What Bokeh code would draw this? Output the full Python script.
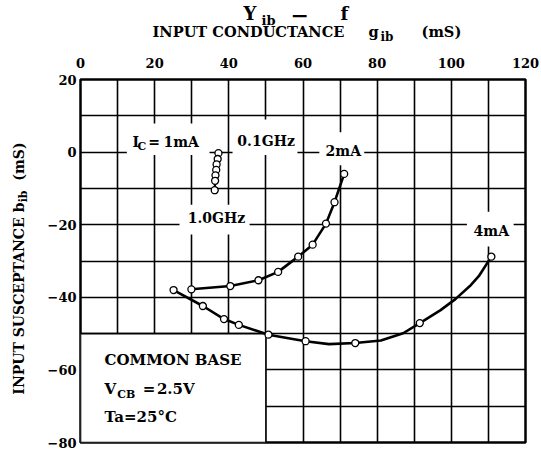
import math
from bokeh.plotting import figure
from bokeh.models import Range1d, FixedTicker, Label
from bokeh.layouts import column, row
from bokeh.embed import file_html
from bokeh.resources import INLINE

# ---------------- data ----------------
x_ticks = [0, 20, 40, 60, 80, 100, 120]
y_ticks = [-80, -60, -40, -20, 0, 20]
y_tick_labels = ["\u221280", "\u221260", "\u221240", "\u221220", "0", "20"]
grid_x = list(range(0, 121, 10))
grid_y = list(range(-80, 21, 10))

# IC = 1 mA (0.1 GHz ... 1.0 GHz)
g_1ma = [37.2, 37.0, 36.7, 36.6, 36.4, 36.3, 36.2]
b_1ma = [-0.3, -1.9, -3.4, -4.9, -6.4, -7.9, -10.5]
# IC = 2 mA
g_2ma = [29.9, 40.4, 48.0, 53.3, 58.7, 62.6, 66.2, 68.5, 71.1]
b_2ma = [-37.8, -36.9, -35.3, -33.0, -28.8, -25.5, -19.7, -13.8, -6.0]
# IC = 4 mA
g_4ma = [25.1, 33.0, 38.7, 42.7, 50.7, 60.7, 74.1, 91.5, 110.8]
b_4ma = [-38.0, -42.4, -46.0, -47.6, -50.3, -52.1, -52.6, -47.1, -28.8]
# traced 4 mA curve (markers plus points)
curve_4ma_g = [25.1, 33.0, 38.7, 42.7, 50.7, 60.7, 67.0, 74.1, 81.0, 87.0, 91.5, 97.0, 101.1, 105.0, 107.4, 110.8]
curve_4ma_b = [-38.0, -42.4, -46.0, -47.6, -50.3, -52.1, -52.9, -52.6, -51.9, -49.9, -47.1, -43.6, -40.5, -36.9, -34.2, -28.8]

FONT = "DejaVu Serif"
W, H = 541, 450
TOP_H = 48
LEFT_W = 30
YPX = 3.63          # main chart: pixels per data unit (vertical)
LIFT = 0.34         # Bokeh's alphabetic anchor sits a bit low: compensate (em)


def label(fig, x, y, s, size, mode, angle=0.0):
    off = LIFT * size
    if mode == "main":
        y += off / YPX
    elif mode == "top":
        y -= off
    elif mode == "left":
        x -= off
    fig.add_layout(Label(x=x, y=y, text=s, text_font=FONT, text_font_style="bold",
                         text_font_size=f"{size}px", text_color="black",
                         text_align="left", text_baseline="alphabetic",
                         angle=angle))


def blank(width, height, xr, yr):
    f = figure(width=width, height=height, x_range=xr, y_range=yr,
               x_axis_location=None, y_axis_location=None,
               output_backend="svg", toolbar_location=None, min_border=0)
    f.grid.visible = False
    f.outline_line_color = None
    f.background_fill_color = "white"
    f.border_fill_color = "white"
    return f


# ---------- title strip (coordinates = page pixels) ----------
top = blank(W, TOP_H, Range1d(0, W), Range1d(TOP_H, 0))
label(top, 243, 19.5, "Y", 18, "top")
label(top, 261, 24.5, "ib", 13, "top")
label(top, 290, 22.0, "\u2212", 22, "top")
label(top, 340, 19.5, "f", 18, "top")
label(top, 152, 35.5, "INPUT CONDUCTANCE", 14.6, "top")
label(top, 368, 35.5, "g", 14.6, "top")
label(top, 380, 41.0, "ib", 12, "top")
label(top, 421, 35.5, "(mS)", 14.6, "top")

# ---------- left strip (rotated axis title) ----------
left = blank(LEFT_W, H - TOP_H, Range1d(0, LEFT_W), Range1d(H, TOP_H))
r = math.pi / 2
label(left, 23, 397, "INPUT SUSCEPTANCE", 14, "left", r)
label(left, 23, 195, "b", 14, "left", r)
label(left, 27, 184, "ib", 11, "left", r)
label(left, 23, 160, "(mS)", 14, "left", r)

# ---------- main chart ----------
p = figure(width=W - LEFT_W, height=H - TOP_H,
           x_range=Range1d(0, 120), y_range=Range1d(-80, 20),
           x_axis_location="above", y_axis_location="left",
           output_backend="svg", toolbar_location=None,
           min_border_left=50, min_border_top=79 - TOP_H, min_border_right=16, min_border_bottom=8)
p.background_fill_color = "white"
p.border_fill_color = "white"
p.outline_line_color = "black"
p.outline_line_width = 2.5

for ax in (p.xaxis[0], p.yaxis[0]):
    ax.major_tick_in = 0
    ax.major_tick_out = 0
    ax.minor_tick_in = 0
    ax.minor_tick_out = 0
    ax.axis_line_color = None
    ax.major_label_text_font = FONT
    ax.major_label_text_font_style = "bold"
    ax.major_label_text_font_size = "13px"
    ax.major_label_text_color = "black"
p.xaxis[0].ticker = FixedTicker(ticks=x_ticks)
p.xaxis[0].major_label_standoff = 12
p.yaxis[0].ticker = FixedTicker(ticks=y_ticks)
p.yaxis[0].major_label_standoff = 4
p.yaxis[0].major_label_overrides = {t: s for t, s in zip(y_ticks, y_tick_labels)}

p.xgrid.ticker = FixedTicker(ticks=grid_x)
p.ygrid.ticker = FixedTicker(ticks=grid_y)
for gr in (p.xgrid[0], p.ygrid[0]):
    gr.grid_line_color = "black"
    gr.grid_line_width = 1.6
    gr.grid_line_alpha = 1.0

# white masks behind the in-plot labels (they break the grid as in the original)
masks_l = [12.5, 41.0, 64.4, 26.7, 104.2]
masks_r = [34.8, 58.5, 76.5, 45.6, 116.8]
masks_b = [-0.8, -0.8, -3.6, -22.7, -26.0]
masks_t = [7.9, 9.0, 5.5, -14.5, -16.4]
p.quad(left=masks_l, right=masks_r, bottom=masks_b, top=masks_t,
       fill_color="white", line_color=None)

# condition box
p.quad(left=[0], right=[50], bottom=[-80], top=[-50],
       fill_color="white", line_color="black", line_width=1.6)

# curves
p.line(g_1ma, b_1ma, line_color="black", line_width=2.2)
p.line(g_2ma, b_2ma, line_color="black", line_width=2.6)
p.line(curve_4ma_g, curve_4ma_b, line_color="black", line_width=2.6)
for gx, by in ((g_1ma, b_1ma), (g_2ma, b_2ma), (g_4ma, b_4ma)):
    p.scatter(gx, by, marker="circle", size=7, fill_color="white",
              line_color="black", line_width=1.3)

# in-plot labels
label(p, 14.0, 1.54, "I", 14, "main")
label(p, 15.4, 0.63, "C", 11, "main")
label(p, 18.3, 1.54, "=", 14, "main")
label(p, 22.4, 1.54, "1mA", 14, "main")
label(p, 42.3, 1.8, "0.1GHz", 14, "main")
label(p, 66.1, -0.9, "2mA", 14, "main")
label(p, 28.9, -19.4, "1.0GHz", 14, "main")
label(p, 106.0, -23.0, "4mA", 14, "main")

# condition text
label(p, 6.5, -58.6, "COMMON BASE", 15, "main")
label(p, 6.5, -66.6, "V", 15, "main")
label(p, 9.9, -67.9, "CB", 11, "main")
label(p, 16.8, -66.6, "=", 15, "main")
label(p, 20.6, -66.6, "2.5V", 15, "main")
label(p, 6.5, -74.3, "Ta=25\u00b0C", 15, "main")

layout = column(top, row(left, p))
open("out.html", "w").write(file_html(layout, INLINE))
